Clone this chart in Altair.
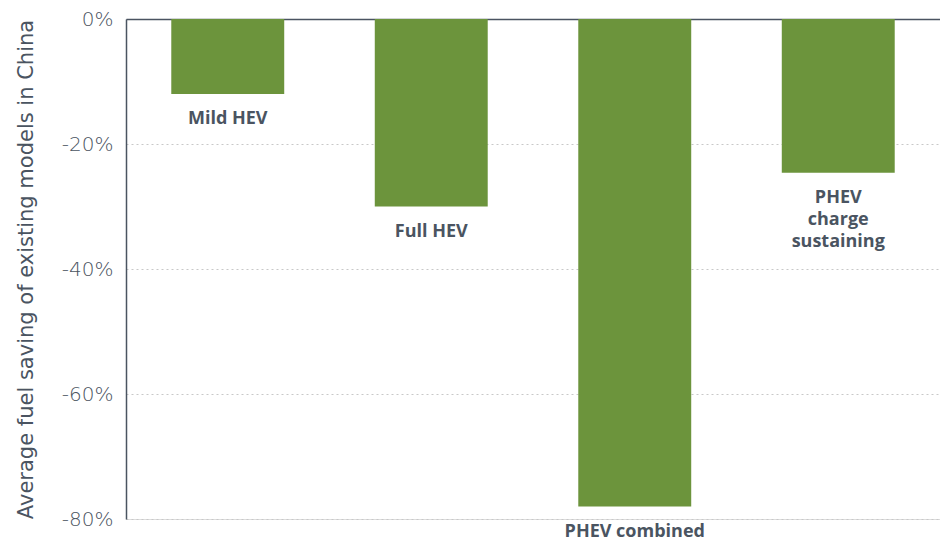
import altair as alt
import pandas as pd

categories = ["Mild HEV", "Full HEV", "PHEV combined", "PHEV charge sustaining"]
labels = ["Mild HEV", "Full HEV", "PHEV combined", "PHEV\ncharge\nsustaining"]
values = [-12, -30, -78, -24.6]
y_ticks = [-80, -60, -40, -20, 0]

df = pd.DataFrame({"cat": categories, "label": labels, "value": values})

TEXT = "#4a5461"
GREEN = "#6c943c"
FONT = "Open Sans"
AXFONT = "DejaVu Sans"

x = alt.X("cat:N", sort=categories,
          scale=alt.Scale(paddingInner=0.445, paddingOuter=0.2225),
          axis=alt.Axis(orient="top", title=None, labels=False, ticks=False,
                        domain=True, domainColor=TEXT, domainWidth=1.5, grid=False))

y = alt.Y("value:Q", scale=alt.Scale(domain=[-80, 0], nice=False),
          axis=alt.Axis(values=y_ticks, labelExpr="datum.value + '%'",
                        title="Average fuel saving of existing models in China",
                        titleFont=AXFONT, titleFontSize=21, titleFontWeight="normal",
                        titleColor=TEXT, titlePadding=25,
                        labelFont=AXFONT, labelFontSize=20, labelColor=TEXT,
                        labelFontWeight=200, labelPadding=13,
                        ticks=False, domain=True, domainColor=TEXT, domainWidth=1.5,
                        grid=True, gridColor="#c8c8c8", gridDash=[2, 3], gridWidth=1))

bars = alt.Chart(df).mark_bar(color=GREEN).encode(x=x, y=y)

text = alt.Chart(df).mark_text(
    baseline="top", align="center", dy=16, font=FONT, fontSize=18,
    fontWeight="bold", color=TEXT, lineBreak="\n", lineHeight=22
).encode(x=alt.X("cat:N", sort=categories), y="value:Q", text="label:N")

chart = alt.layer(bars, text).properties(
    width=814, height=500,
    autosize=alt.AutoSizeParams(type="none"),
    padding={"left": 118, "top": 11, "right": 0, "bottom": 30},
).configure_view(stroke=None).configure(background="white")

chart.save("out.html", embed_options={"renderer": "svg", "actions": False})
